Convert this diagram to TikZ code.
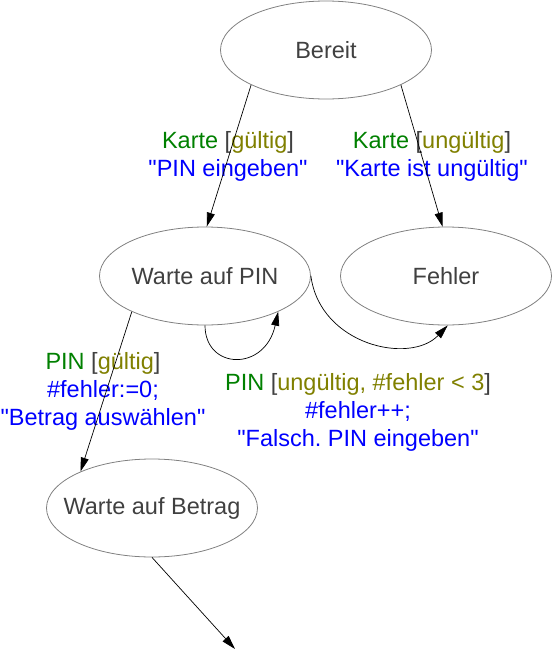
\documentclass[tikz,border=0pt]{standalone}
\usepackage{fontspec}
\setmainfont{Liberation Sans}
\usetikzlibrary{arrows.meta,shapes.geometric,positioning}
\definecolor{evgreen}{RGB}{0,128,0}
\definecolor{grdolive}{RGB}{128,128,0}
\definecolor{actblue}{RGB}{0,0,255}
\definecolor{stgray}{RGB}{64,64,64}
\newcommand{\ev}[1]{\textcolor{evgreen}{#1}}
\newcommand{\grd}[1]{\textcolor{stgray}{[}\textcolor{grdolive}{#1}\textcolor{stgray}{]}}
\newcommand{\act}[1]{\textcolor{actblue}{#1}}
\newcommand{\msg}[1]{\act{\textquotedbl#1\textquotedbl}}
\newcommand{\stname}[1]{\makebox[0pt]{#1}}
\frenchspacing

\begin{document}
\begin{tikzpicture}[x=1pt, y=-1pt,
    state/.style={ellipse, draw=gray, line width=0.8pt, minimum width=211pt, minimum height=98pt, inner sep=0pt, text=stgray, font=\fontsize{23.5}{28}\selectfont},
    lbl/.style={align=center, inner sep=0pt, font=\fontsize{23.5}{28}\selectfont},
    arr/.style={-{Triangle[length=14pt,width=8pt]}, line width=0.7pt}
]
\useasboundingbox (0,0) rectangle (553,651);

% states
\node[state] (bereit) at (326,50) {\stname{Bereit}};
\node[state] (pin) at (205,276) {\stname{Warte auf PIN}};
\node[state] (fehler) at (446,276) {\stname{Fehler}};
\node[state] (betrag) at (152,508) {\stname{Warte auf Betrag}};
\coordinate (weiter) at (235,649);

% labels
\node[lbl] (l1) at (228,156) {\ev{Karte} \grd{gültig}\\\msg{PIN eingeben}};
\node[lbl] (l2) at (432,156) {\ev{Karte} \grd{ungültig}\\\msg{Karte ist ungültig}};
\node[lbl] (l3) at (103,391) {\ev{PIN} \grd{gültig}\\\act{\#fehler:=0;}\\\msg{Betrag auswählen}};
\node[lbl] (l4) at (358,412) {\ev{PIN} \grd{ungültig, \#fehler < 3}\\\act{\#fehler++;}\\\msg{Falsch. PIN eingeben}};

% transitions
\draw[arr] (bereit.-155) -- (pin.88);
\draw[arr] (bereit.-25) -- (fehler.94);
\draw[arr] (pin.south) .. controls (205,370) and (265,372) .. (pin.-26);
\draw[arr] (pin.east) .. controls (320,345) and (410,365) .. (fehler.-88);
\draw[arr] (pin.-154) -- (betrag.153);
\draw[arr] (betrag.south) -- (weiter);
\end{tikzpicture}
\end{document}
